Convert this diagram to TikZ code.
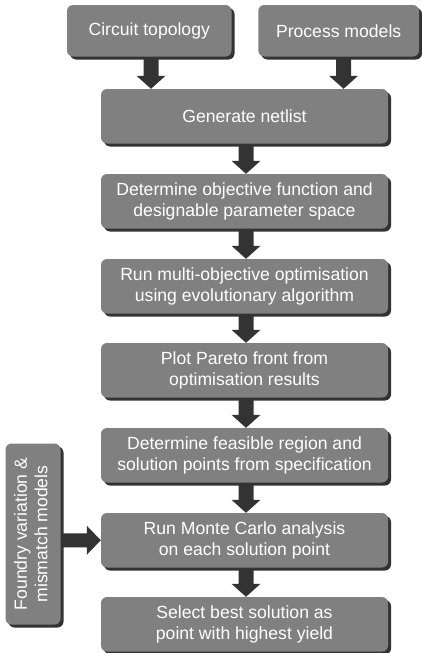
\documentclass[tikz,border=0pt]{standalone}
\usepackage{fontspec}
\setmainfont{Liberation Sans}
\usepackage{graphicx}
\usetikzlibrary{calc,shadows}
\definecolor{boxgray}{HTML}{808080}
\definecolor{shade}{HTML}{333333}
\pgfdeclarelayer{bg}
\pgfsetlayers{bg,main}
\tikzset{
  box/.style={rectangle, rounded corners=6pt, fill=boxgray, text=white, align=center,
    inner sep=0pt, font=\fontsize{17.6}{20.5}\selectfont,
    general shadow={shadow xshift=3pt, shadow yshift=-3pt, fill=shade}},
  mainbox/.style={box, minimum width=287pt, minimum height=54.5pt},
  arr/.style={fill=shade},
}
\newcommand\varr[3]{%
  \fill[arr] let \p1=($(#1)+(#3,0)$), \p2=(#2) in
  (\x1-7.5pt,\y1) -- (\x1+7.5pt,\y1) -- (\x1+7.5pt,\y2+13pt) -- (\x1+14.5pt,\y2+13pt)
  -- (\x1,\y2) -- (\x1-14.5pt,\y2+13pt) -- (\x1-7.5pt,\y2+13pt) -- cycle;}
\begin{document}
\begin{tikzpicture}[x=1pt,y=1pt]
\useasboundingbox (0,0) rectangle (422,-653);
\node[box, minimum width=164.5pt, minimum height=51.5pt] (ct) at (149.25,-30.75) {Circuit topology};
\node[box, minimum width=160.7pt, minimum height=51.5pt] (pm) at (338.65,-30.75) {Process models};
\node[mainbox] (gn) at (244.5,-116.25) {Generate netlist};
\node[mainbox] (of) at (244.5,-201.25) {Determine objective function and\\designable parameter space};
\node[mainbox] (mo) at (244.5,-286.25) {Run multi-objective optimisation\\using evolutionary algorithm};
\node[mainbox] (pp) at (244.5,-370.25) {Plot Pareto front from\\optimisation results};
\node[mainbox] (fr) at (244.5,-455.25) {Determine feasible region and\\solution points from specification};
\node[mainbox] (mc) at (244.5,-540.25) {Run Monte Carlo analysis\\on each solution point};
\node[mainbox] (sb) at (244.5,-624.25) {Select best solution as\\point with highest yield};
\node[box, minimum width=55pt, minimum height=181pt] (fv) at (33,-534)
  {\rotatebox{90}{\begin{tabular}{@{}c@{}}Foundry variation \&\\mismatch models\end{tabular}}};
\begin{pgfonlayer}{bg}
\varr{ct.south}{gn.north}{1.75}
\varr{pm.south}{gn.north}{4.9}
\varr{gn.south}{of.north}{1.5}
\varr{of.south}{mo.north}{1.5}
\varr{mo.south}{pp.north}{1.5}
\varr{pp.south}{fr.north}{1.5}
\varr{fr.south}{mc.north}{1.5}
\varr{mc.south}{sb.north}{1.5}
\fill[arr] let \p1=(fv.east), \p2=(mc.west) in
  (\x1,\y2+7pt) -- (\x2-14pt,\y2+7pt) -- (\x2-14pt,\y2+14.5pt) -- (\x2,\y2)
  -- (\x2-14pt,\y2-14.5pt) -- (\x2-14pt,\y2-7pt) -- (\x1,\y2-7pt) -- cycle;
\end{pgfonlayer}
\end{tikzpicture}
\end{document}
